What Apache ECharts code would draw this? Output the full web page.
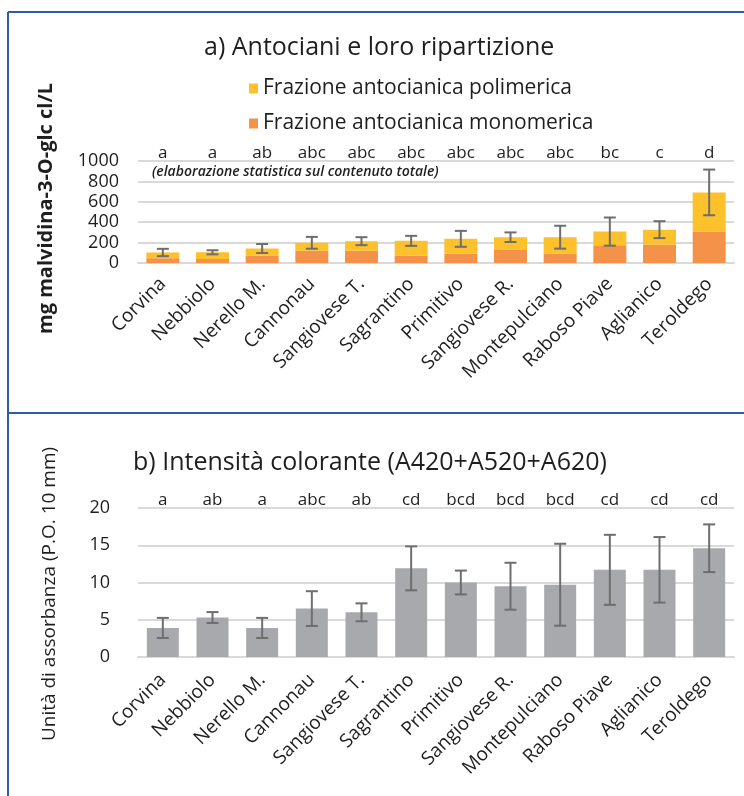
<!DOCTYPE html>
<html><head><meta charset="utf-8">
<script src="https://cdn.jsdelivr.net/npm/echarts@6/dist/echarts.min.js"></script>
<style>html,body{margin:0;padding:0;background:#fff}#c{width:744px;height:796px}</style>
</head><body><div id="c"></div>
<script>
const categories = ['Corvina','Nebbiolo','Nerello M.','Cannonau','Sangiovese T.','Sagrantino','Primitivo','Sangiovese R.','Montepulciano','Raboso Piave','Aglianico','Teroldego'];
// Panel a: anthocyanins (mg malvidin-3-O-glc cl/L)
const monomerica = [47, 40, 71, 120, 120, 71, 91, 127, 91, 175, 178, 308];
const polimerica = [56, 65, 71, 78, 94, 146, 146, 126, 162, 133, 149, 384];
const errA = [36, 20, 44, 58, 39, 49, 78, 47, 112, 138, 83, 224];
const lettersA = ['a','a','ab','abc','abc','abc','abc','abc','abc','bc','c','d'];
const ticksA = [0, 200, 400, 600, 800, 1000];
// Panel b: colour intensity
const intensita = [3.9, 5.3, 3.9, 6.5, 6.0, 11.9, 10.0, 9.5, 9.7, 11.7, 11.7, 14.6];
const errB = [1.35, 0.73, 1.35, 2.33, 1.2, 2.95, 1.6, 3.15, 5.5, 4.7, 4.4, 3.2];
const lettersB = ['a','ab','a','abc','ab','cd','bcd','bcd','bcd','cd','cd','cd'];
const ticksB = [0, 5, 10, 15, 20];

const FONT = 'Open Sans';
const TXT = '#1e1e1e';
const GRID = '#d9d9d9';
const ERR = '#6e6e6e';

function errRender(params, api){
  const i = api.value(0), v = api.value(1), e = api.value(2);
  const hi = api.coord([i, v + e]), lo = api.coord([i, v - e]);
  const w = 6;
  const st = {stroke: ERR, lineWidth: 2};
  return {type:'group', children:[
    {type:'line', shape:{x1:hi[0], y1:hi[1], x2:lo[0], y2:lo[1]}, style:st},
    {type:'line', shape:{x1:hi[0]-w, y1:hi[1], x2:hi[0]+w, y2:hi[1]}, style:st},
    {type:'line', shape:{x1:lo[0]-w, y1:lo[1], x2:lo[0]+w, y2:lo[1]}, style:st}
  ]};
}
function letterRender(letters){
  return function(params, api){
    const p = api.coord([api.value(0), api.value(1)]);
    return {type:'text', x:p[0], y:p[1]-8, style:{text:letters[params.dataIndex], fill:TXT, font:'17px "'+FONT+'"', align:'center', verticalAlign:'middle'}};
  };
}

const errDataA = categories.map((c,i)=>[i, monomerica[i]+polimerica[i], errA[i]]);
const errDataB = categories.map((c,i)=>[i, intensita[i], errB[i]]);
const letDataA = categories.map((c,i)=>[i, ticksA[ticksA.length-1]]);
const letDataB = categories.map((c,i)=>[i, ticksB[ticksB.length-1]]);

function xAx(gi, margin){
  return {type:'category', gridIndex:gi, data:categories,
    axisTick:{show:false}, axisLine:{lineStyle:{color:GRID, width:2}},
    axisLabel:{rotate:45, interval:0, fontSize:19, fontFamily:FONT, color:TXT, margin:margin}};
}
function yAx(gi, ticks, margin){
  return {type:'value', gridIndex:gi, min:ticks[0], max:ticks[ticks.length-1], interval:ticks[1]-ticks[0],
    axisLine:{show:false}, axisTick:{show:false},
    splitLine:{lineStyle:{color:GRID, width:2}},
    axisLabel:{fontSize:18, fontFamily:FONT, color:TXT, margin:margin, formatter:(v)=>String(v)}};
}

const chart = echarts.init(document.getElementById('c'), null, {renderer:'canvas'});
chart.setOption({
  animation:false,
  textStyle:{fontFamily:FONT},
  grid:[
    {left:138, right:10, top:161, height:102},
    {left:138, right:10, top:508, height:149}
  ],
  xAxis:[xAx(0, 18), xAx(1, 20)],
  yAxis:[yAx(0, ticksA, 19), yAx(1, ticksB, 28)],
  legend:{
    orient:'vertical', left:244, top:73, itemGap:14, itemWidth:9, itemHeight:10,
    icon:'rect', textStyle:{fontSize:21, fontFamily:FONT, color:TXT},
    data:['Frazione antocianica polimerica','Frazione antocianica monomerica']
  },
  series:[
    {name:'Frazione antocianica monomerica', type:'bar', stack:'a', xAxisIndex:0, yAxisIndex:0,
      data:monomerica, barWidth:33, itemStyle:{color:'#f4924a'}},
    {name:'Frazione antocianica polimerica', type:'bar', stack:'a', xAxisIndex:0, yAxisIndex:0,
      data:polimerica, barWidth:33, itemStyle:{color:'#fdc12c'}},
    {type:'custom', xAxisIndex:0, yAxisIndex:0, data:errDataA, renderItem:errRender, z:5},
    {type:'custom', xAxisIndex:0, yAxisIndex:0, data:letDataA, renderItem:letterRender(lettersA), z:5},
    {type:'bar', xAxisIndex:1, yAxisIndex:1, data:intensita, barWidth:32, itemStyle:{color:'#a7a9ac'}},
    {type:'custom', xAxisIndex:1, yAxisIndex:1, data:errDataB, renderItem:errRender, z:5},
    {type:'custom', xAxisIndex:1, yAxisIndex:1, data:letDataB, renderItem:letterRender(lettersB), z:5}
  ],
  graphic:[
    {type:'line', shape:{x1:8, y1:12, x2:744, y2:12}, style:{stroke:'#2e5ca6', lineWidth:2}},
    {type:'line', shape:{x1:8, y1:12, x2:8, y2:796}, style:{stroke:'#2e5ca6', lineWidth:2}},
    {type:'line', shape:{x1:8, y1:413, x2:744, y2:413}, style:{stroke:'#2e5ca6', lineWidth:2}},
    {type:'text', left:204, top:35, style:{text:'a) Antociani e loro ripartizione', font:'25px "'+FONT+'"', fill:TXT}},
    {type:'text', x:152, y:172, style:{text:'(elaborazione statistica sul contenuto totale)', font:'italic 600 14px "'+FONT+'"', fill:TXT, align:'left', verticalAlign:'middle'}},
    {type:'text', left:36, top:83, rotation:Math.PI/2, style:{text:'mg malvidina-3-O-glc cl/L', font:'bold 20px "'+FONT+'"', fill:TXT}},
    {type:'text', left:133, top:450, style:{text:'b) Intensità colorante (A420+A520+A620)', font:'25px "'+FONT+'"', fill:TXT}},
    {type:'text', x:50, y:594, rotation:Math.PI/2, style:{text:'Unità di assorbanza (P.O. 10 mm)', font:'19px "'+FONT+'"', fill:TXT, align:'center', verticalAlign:'middle'}}
  ]
});
</script></body></html>
